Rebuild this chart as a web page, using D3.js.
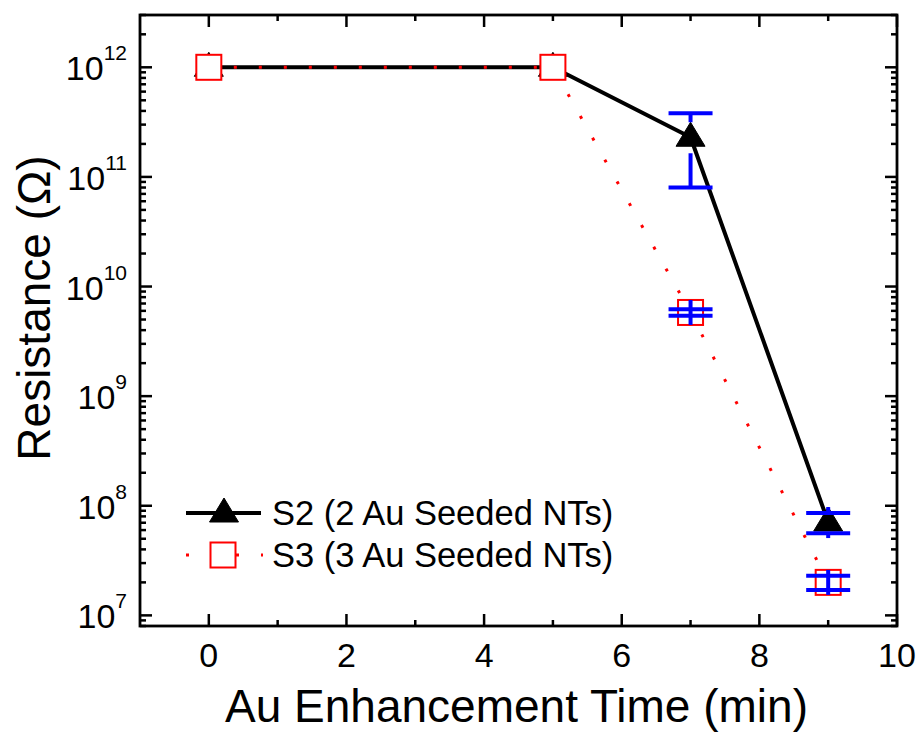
<!DOCTYPE html>
<html>
<head>
<meta charset="utf-8">
<script src="https://cdn.jsdelivr.net/npm/d3@7"></script>
<style>
  html, body { margin: 0; padding: 0; background: #fff; }
  text { font-family: "Liberation Sans", Arial, Helvetica, sans-serif; fill: #000; }
</style>
</head>
<body>
<svg id="chart" width="919" height="733"></svg>
<script>
// ---- data ----
const times = [0, 5, 7, 9];
const s2Values = [1e12, 1e12, 2.3e11, 7.1e7];
const s2Errors = [0, 0, 1.5e11, 1.5e7];
const s3Values = [1e12, 1e12, 5.8e9, 2.0e7];
const s3Errors = [0, 0, 0.4e9, 0.3e7];
const seriesNames = ["S2 (2 Au Seeded NTs)", "S3 (3 Au Seeded NTs)"];
const xMajorTicks = [0, 2, 4, 6, 8, 10];
const xMinorTicks = [1, 3, 5, 7, 9];
const yDecades = [7, 8, 9, 10, 11, 12];
const xTitle = "Au Enhancement Time (min)";
const yTitle = "Resistance (\u03A9)";

// ---- layout ----
const svg = d3.select("#chart");
const L = 140, R = 897, T = 15, B = 626;
const x = d3.scaleLinear().domain([-1, 10]).range([L, R]);
const y = d3.scaleLog().domain([8e6, 3e12]).range([B, T]);

const g = svg.append("g");

// minor y ticks
const yMinor = [];
yDecades.concat([6]).forEach(d => {
  for (let m = 2; m <= 9; m++) {
    const v = m * Math.pow(10, d);
    if (v >= 8e6 && v <= 3e12) yMinor.push(v);
  }
});

const tickStroke = 2.5;
function tickLine(x1, y1, x2, y2) {
  g.append("line").attr("x1", x1).attr("y1", y1).attr("x2", x2).attr("y2", y2)
    .attr("stroke", "#000").attr("stroke-width", tickStroke);
}
// y ticks left & right
yDecades.forEach(d => {
  const yy = y(Math.pow(10, d));
  tickLine(L, yy, L + 12, yy);
  tickLine(R, yy, R - 12, yy);
});
yMinor.forEach(v => {
  const yy = y(v);
  tickLine(L, yy, L + 6, yy);
  tickLine(R, yy, R - 6, yy);
});
// x ticks bottom & top
xMajorTicks.forEach(v => {
  const xx = x(v);
  tickLine(xx, B, xx, B - 12);
  tickLine(xx, T, xx, T + 12);
});
xMinorTicks.forEach(v => {
  const xx = x(v);
  tickLine(xx, B, xx, B - 6);
  tickLine(xx, T, xx, T + 6);
});

// frame
g.append("rect").attr("x", L).attr("y", T).attr("width", R - L).attr("height", B - T)
  .attr("fill", "none").attr("stroke", "#000").attr("stroke-width", 2.8);

// y tick labels
yDecades.forEach(d => {
  const t = g.append("text").attr("x", 127).attr("y", y(Math.pow(10, d)) + 13)
    .attr("text-anchor", "end").style("font-size", "34px");
  t.append("tspan").text("10");
  t.append("tspan").attr("dy", -20).style("font-size", "21px").text(String(d));
});
// x tick labels
xMajorTicks.forEach(v => {
  g.append("text").attr("x", x(v)).attr("y", 667).attr("text-anchor", "middle")
    .style("font-size", "34px").text(String(v));
});

// axis titles
g.append("text").attr("x", (L + R) / 2 - 2).attr("y", 722).attr("text-anchor", "middle")
  .style("font-size", "46px").text(xTitle);
g.append("text").attr("transform", "translate(50,308) rotate(-90)").attr("text-anchor", "middle")
  .style("font-size", "46px").text(yTitle);

// ---- marker helpers ----
function triPath(cx, cy) {
  return `M${cx},${cy - 15}L${cx + 14.5},${cy + 9}L${cx - 14.5},${cy + 9}Z`;
}
function drawTriangle(cx, cy) {
  g.append("path").attr("d", triPath(cx, cy)).attr("fill", "#000").attr("stroke", "#000").attr("stroke-width", 1);
}
function drawSquare(cx, cy) {
  g.append("rect").attr("x", cx - 12.5).attr("y", cy - 12.5).attr("width", 25).attr("height", 25)
    .attr("fill", "#fff").attr("stroke", "#ff0000").attr("stroke-width", 2);
}
const blue = "#0000ff";
function errLine(x1, y1, x2, y2) {
  g.append("line").attr("x1", x1).attr("y1", y1).attr("x2", x2).attr("y2", y2)
    .attr("stroke", blue).attr("stroke-width", 4);
}

const line = d3.line().x(d => x(d[0])).y(d => y(d[1]));

// ---- S2 ----
const s2Data = times.map((t, i) => [t, s2Values[i], s2Errors[i]]);
g.append("path").datum(s2Data).attr("d", line).attr("fill", "none")
  .attr("stroke", "#000").attr("stroke-width", 4).attr("stroke-linejoin", "round");
s2Data.forEach(d => drawTriangle(x(d[0]), y(d[1])));
s2Data.filter(d => d[2] > 0).forEach(d => {
  const cx = x(d[0]), cy = y(d[1]);
  const yHi = y(d[1] + d[2]), yLo = y(d[1] - d[2]);
  errLine(cx, cy - 15, cx, yHi);
  errLine(cx, cy + 16, cx, yLo);
  errLine(cx - 22, yHi, cx + 22, yHi);
  errLine(cx - 22, yLo, cx + 22, yLo);
});

// ---- S3 ----
const s3Data = times.map((t, i) => [t, s3Values[i], s3Errors[i]]);
g.append("path").datum(s3Data).attr("d", line).attr("fill", "none")
  .attr("stroke", "#ff0000").attr("stroke-width", 3).attr("stroke-dasharray", "3,22");
s3Data.forEach(d => drawSquare(x(d[0]), y(d[1])));
s3Data.filter(d => d[2] > 0).forEach(d => {
  const cx = x(d[0]), cy = y(d[1]);
  const yHi = y(d[1] + d[2]), yLo = y(d[1] - d[2]);
  errLine(cx, Math.min(cy - 12.5, yHi), cx, Math.max(cy + 12.5, yLo));
  errLine(cx - 22, yHi, cx + 22, yHi);
  errLine(cx - 22, yLo, cx + 22, yLo);
});

// ---- legend ----
const lx1 = 186, lx2 = 261, lcx = 224;
const ly1 = 513, ly2 = 555;
g.append("line").attr("x1", lx1).attr("y1", ly1).attr("x2", lx2).attr("y2", ly1)
  .attr("stroke", "#000").attr("stroke-width", 4);
drawTriangle(lcx, ly1);
g.append("text").attr("x", 272).attr("y", 525).style("font-size", "34.5px").text(seriesNames[0]);
g.append("line").attr("x1", lx1).attr("y1", ly2).attr("x2", lx2 + 2).attr("y2", ly2)
  .attr("stroke", "#ff0000").attr("stroke-width", 3).attr("stroke-dasharray", "3,22");
drawSquare(lcx - 1, ly2);
g.append("text").attr("x", 272).attr("y", 567).style("font-size", "34.5px").text(seriesNames[1]);
</script>
</body>
</html>
